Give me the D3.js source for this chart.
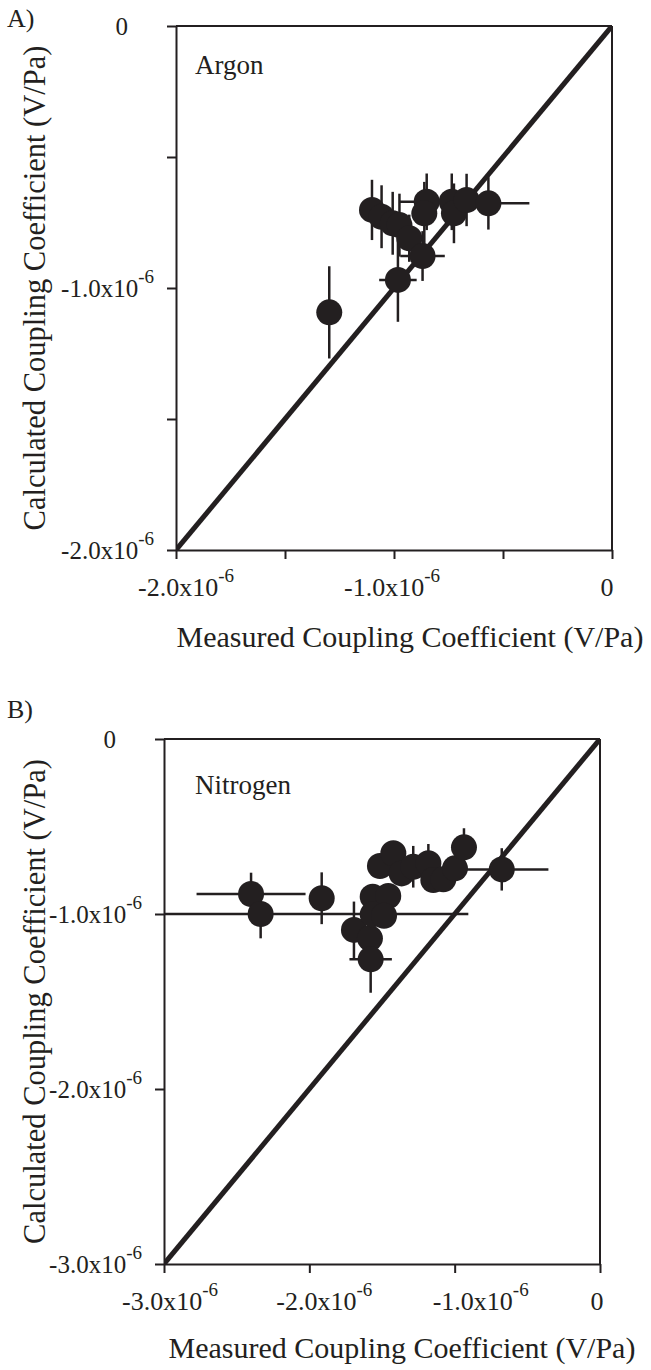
<!DOCTYPE html>
<html>
<head>
<meta charset="utf-8">
<script src="https://cdn.jsdelivr.net/npm/d3@7"></script>
<style>
  body { margin: 0; background: #fff; }
  text { font-family: "Liberation Serif", "Times New Roman", serif; fill: #231f20; }
</style>
</head>
<body>
<svg id="chart" width="651" height="1370"></svg>
<script>
// ---------------- DATA (V/Pa) ----------------
// Panel A: Argon
const argonMeasured   = [-1.297e-6, -1.101e-6, -1.057e-6, -1.006e-6, -0.975e-6, -0.930e-6, -0.869e-6, -0.982e-6, -0.850e-6, -0.861e-6, -0.735e-6, -0.725e-6, -0.667e-6, -0.567e-6];
const argonCalculated = [-1.093e-6, -0.702e-6, -0.728e-6, -0.753e-6, -0.760e-6, -0.810e-6, -0.878e-6, -0.969e-6, -0.671e-6, -0.715e-6, -0.671e-6, -0.715e-6, -0.664e-6, -0.677e-6];
const argonMeasuredErr   = [0, 0, 0, 0, 0, 0, 0.102e-6, 0.086e-6, 0.126e-6, 0, 0, 0, 0, 0.188e-6];
const argonCalculatedErr = [0.176e-6, 0.115e-6, 0.120e-6, 0.120e-6, 0.120e-6, 0.090e-6, 0.095e-6, 0.160e-6, 0.108e-6, 0.120e-6, 0.108e-6, 0.114e-6, 0.100e-6, 0.100e-6];

// Panel B: Nitrogen
const nitrogenMeasured   = [-2.401e-6, -2.335e-6, -1.915e-6, -1.693e-6, -1.583e-6, -1.578e-6, -1.564e-6, -1.457e-6, -1.564e-6, -1.486e-6, -1.514e-6, -1.422e-6, -1.365e-6, -1.285e-6, -1.181e-6, -1.147e-6, -1.078e-6, -0.998e-6, -0.936e-6, -0.676e-6];
const nitrogenCalculated = [-0.886e-6, -1.000e-6, -0.910e-6, -1.091e-6, -1.139e-6, -1.259e-6, -0.901e-6, -0.897e-6, -1.002e-6, -1.010e-6, -0.726e-6, -0.653e-6, -0.768e-6, -0.730e-6, -0.710e-6, -0.806e-6, -0.802e-6, -0.739e-6, -0.619e-6, -0.745e-6];
const nitrogenMeasuredErr   = [0.375e-6, 1.429e-6, 0, 0, 0, 0.146e-6, 0, 0, 0, 0, 0, 0, 0, 0, 0, 0, 0, 0, 0, 0.321e-6];
const nitrogenCalculatedErr = [0.122e-6, 0.139e-6, 0.148e-6, 0.162e-6, 0, 0.191e-6, 0, 0, 0, 0, 0, 0, 0, 0.119e-6, 0.110e-6, 0, 0, 0, 0.109e-6, 0.121e-6];

// Axis ticks and labels
const argonDomain = [-2.0e-6, 0];
const argonTicks = [-2.0e-6, -1.5e-6, -1.0e-6, -0.5e-6, 0];
const argonLabelValues = [-2.0e-6, -1.0e-6, 0];
const argonLabelMain = ["-2.0x10", "-1.0x10", "0"];
const argonLabelExp  = ["-6", "-6", ""];

const nitrogenDomain = [-3.0e-6, 0];
const nitrogenTicks = [-3.0e-6, -2.0e-6, -1.0e-6, 0];
const nitrogenLabelValues = [-3.0e-6, -2.0e-6, -1.0e-6, 0];
const nitrogenLabelMain = ["-3.0x10", "-2.0x10", "-1.0x10", "0"];
const nitrogenLabelExp  = ["-6", "-6", "-6", ""];

const xTitle = "Measured Coupling Coefficient (V/Pa)";
const yTitle = "Calculated Coupling Coefficient (V/Pa)";

// ---------------- DRAWING ----------------
const ink = "#231f20";
const svg = d3.select("#chart");

const panels = [
  { key: "A", tag: "A)", gas: "Argon",
    xs: argonMeasured, ys: argonCalculated, ex: argonMeasuredErr, ey: argonCalculatedErr,
    domain: argonDomain, ticks: argonTicks, labVals: argonLabelValues, labMain: argonLabelMain, labExp: argonLabelExp,
    left: 176, right: 612, top: 26, bottom: 550,
    tagPos: [7, 27], gasPos: [195, 74], xLabNudge: [10, -2, -5], xTitleX: 410, xTitleY: 647, yTitleX: 45 },
  { key: "B", tag: "B)", gas: "Nitrogen",
    xs: nitrogenMeasured, ys: nitrogenCalculated, ex: nitrogenMeasuredErr, ey: nitrogenCalculatedErr,
    domain: nitrogenDomain, ticks: nitrogenTicks, labVals: nitrogenLabelValues, labMain: nitrogenLabelMain, labExp: nitrogenLabelExp,
    left: 164, right: 600, top: 739, bottom: 1264,
    tagPos: [7, 718], gasPos: [195, 794], xLabNudge: [6, 15, 26, -3], xTitleX: 402, xTitleY: 1358, yTitleX: 45 }
];

panels.forEach(p => {
  const x = d3.scaleLinear().domain(p.domain).range([p.left, p.right]);
  const y = d3.scaleLinear().domain(p.domain).range([p.bottom, p.top]);
  const g = svg.append("g");

  const cid = "clip" + p.key;
  svg.append("clipPath").attr("id", cid).append("rect")
    .attr("x", p.left).attr("y", p.top)
    .attr("width", p.right - p.left).attr("height", p.bottom - p.top);

  // 1:1 line
  g.append("line")
    .attr("clip-path", `url(#${cid})`)
    .attr("x1", x(p.domain[0])).attr("y1", y(p.domain[0]))
    .attr("x2", x(0)).attr("y2", y(0))
    .attr("stroke", ink).attr("stroke-width", 5);

  const pts = p.xs.map((v, i) => ({ x: v, y: p.ys[i], ex: p.ex[i], ey: p.ey[i] }));

  const eb = g.append("g").attr("clip-path", `url(#${cid})`)
    .attr("stroke", ink).attr("stroke-width", 2.5);
  eb.selectAll("line.h").data(pts.filter(d => d.ex > 0)).join("line").attr("class", "h")
    .attr("x1", d => x(d.x - d.ex)).attr("x2", d => x(d.x + d.ex))
    .attr("y1", d => y(d.y)).attr("y2", d => y(d.y));
  eb.selectAll("line.v").data(pts.filter(d => d.ey > 0)).join("line").attr("class", "v")
    .attr("x1", d => x(d.x)).attr("x2", d => x(d.x))
    .attr("y1", d => y(d.y - d.ey)).attr("y2", d => y(d.y + d.ey));

  g.append("g").selectAll("circle").data(pts).join("circle")
    .attr("cx", d => x(d.x)).attr("cy", d => y(d.y)).attr("r", 13)
    .attr("fill", ink);

  // Axes
  const styleAxis = s => {
    s.select(".domain").attr("stroke", ink).attr("stroke-width", 2);
    s.selectAll(".tick line").attr("stroke", ink).attr("stroke-width", 2);
  };
  g.append("g").attr("transform", `translate(0,${p.bottom})`)
    .call(d3.axisBottom(x).tickValues(p.ticks).tickSize(9).tickSizeOuter(0).tickFormat(""))
    .call(styleAxis);
  g.append("g").attr("transform", `translate(${p.left},0)`)
    .call(d3.axisLeft(y).tickValues(p.ticks).tickSize(9).tickSizeOuter(0).tickFormat(""))
    .call(styleAxis);
  // frame top/right
  g.append("line").attr("x1", p.left).attr("x2", p.right).attr("y1", p.top).attr("y2", p.top)
    .attr("stroke", ink).attr("stroke-width", 2);
  g.append("line").attr("x1", p.right).attr("x2", p.right).attr("y1", p.top).attr("y2", p.bottom)
    .attr("stroke", ink).attr("stroke-width", 2);

  // X tick labels
  p.labVals.forEach((v, i) => {
    const t = g.append("text").attr("text-anchor", "middle")
      .attr("x", x(v) + p.xLabNudge[i]).attr("y", p.bottom + 46)
      .style("font-size", "26px");
    t.append("tspan").text(p.labMain[i]);
    if (p.labExp[i]) t.append("tspan").attr("dy", -14).style("font-size", "19px").text(p.labExp[i]);
  });
  // Y tick labels
  p.labVals.forEach((v, i) => {
    const t = g.append("text").attr("text-anchor", "end")
      .attr("x", p.labExp[i] ? p.left - 22 : p.left - 48).attr("y", y(v) + 9)
      .style("font-size", "25px");
    t.append("tspan").text(p.labMain[i]);
    if (p.labExp[i]) t.append("tspan").attr("dy", -14).style("font-size", "19px").text(p.labExp[i]);
  });

  // Titles
  g.append("text").attr("text-anchor", "middle")
    .attr("x", p.xTitleX).attr("y", p.xTitleY).style("font-size", "30px").text(xTitle);
  g.append("text").attr("text-anchor", "middle")
    .attr("transform", `translate(${p.yTitleX},${(p.top + p.bottom) / 2}) rotate(-90)`)
    .style("font-size", "30.5px").text(yTitle);

  g.append("text").attr("x", p.tagPos[0]).attr("y", p.tagPos[1]).style("font-size", "26px").text(p.tag);
  g.append("text").attr("x", p.gasPos[0]).attr("y", p.gasPos[1]).style("font-size", "27px").text(p.gas);
});
</script>
</body>
</html>
